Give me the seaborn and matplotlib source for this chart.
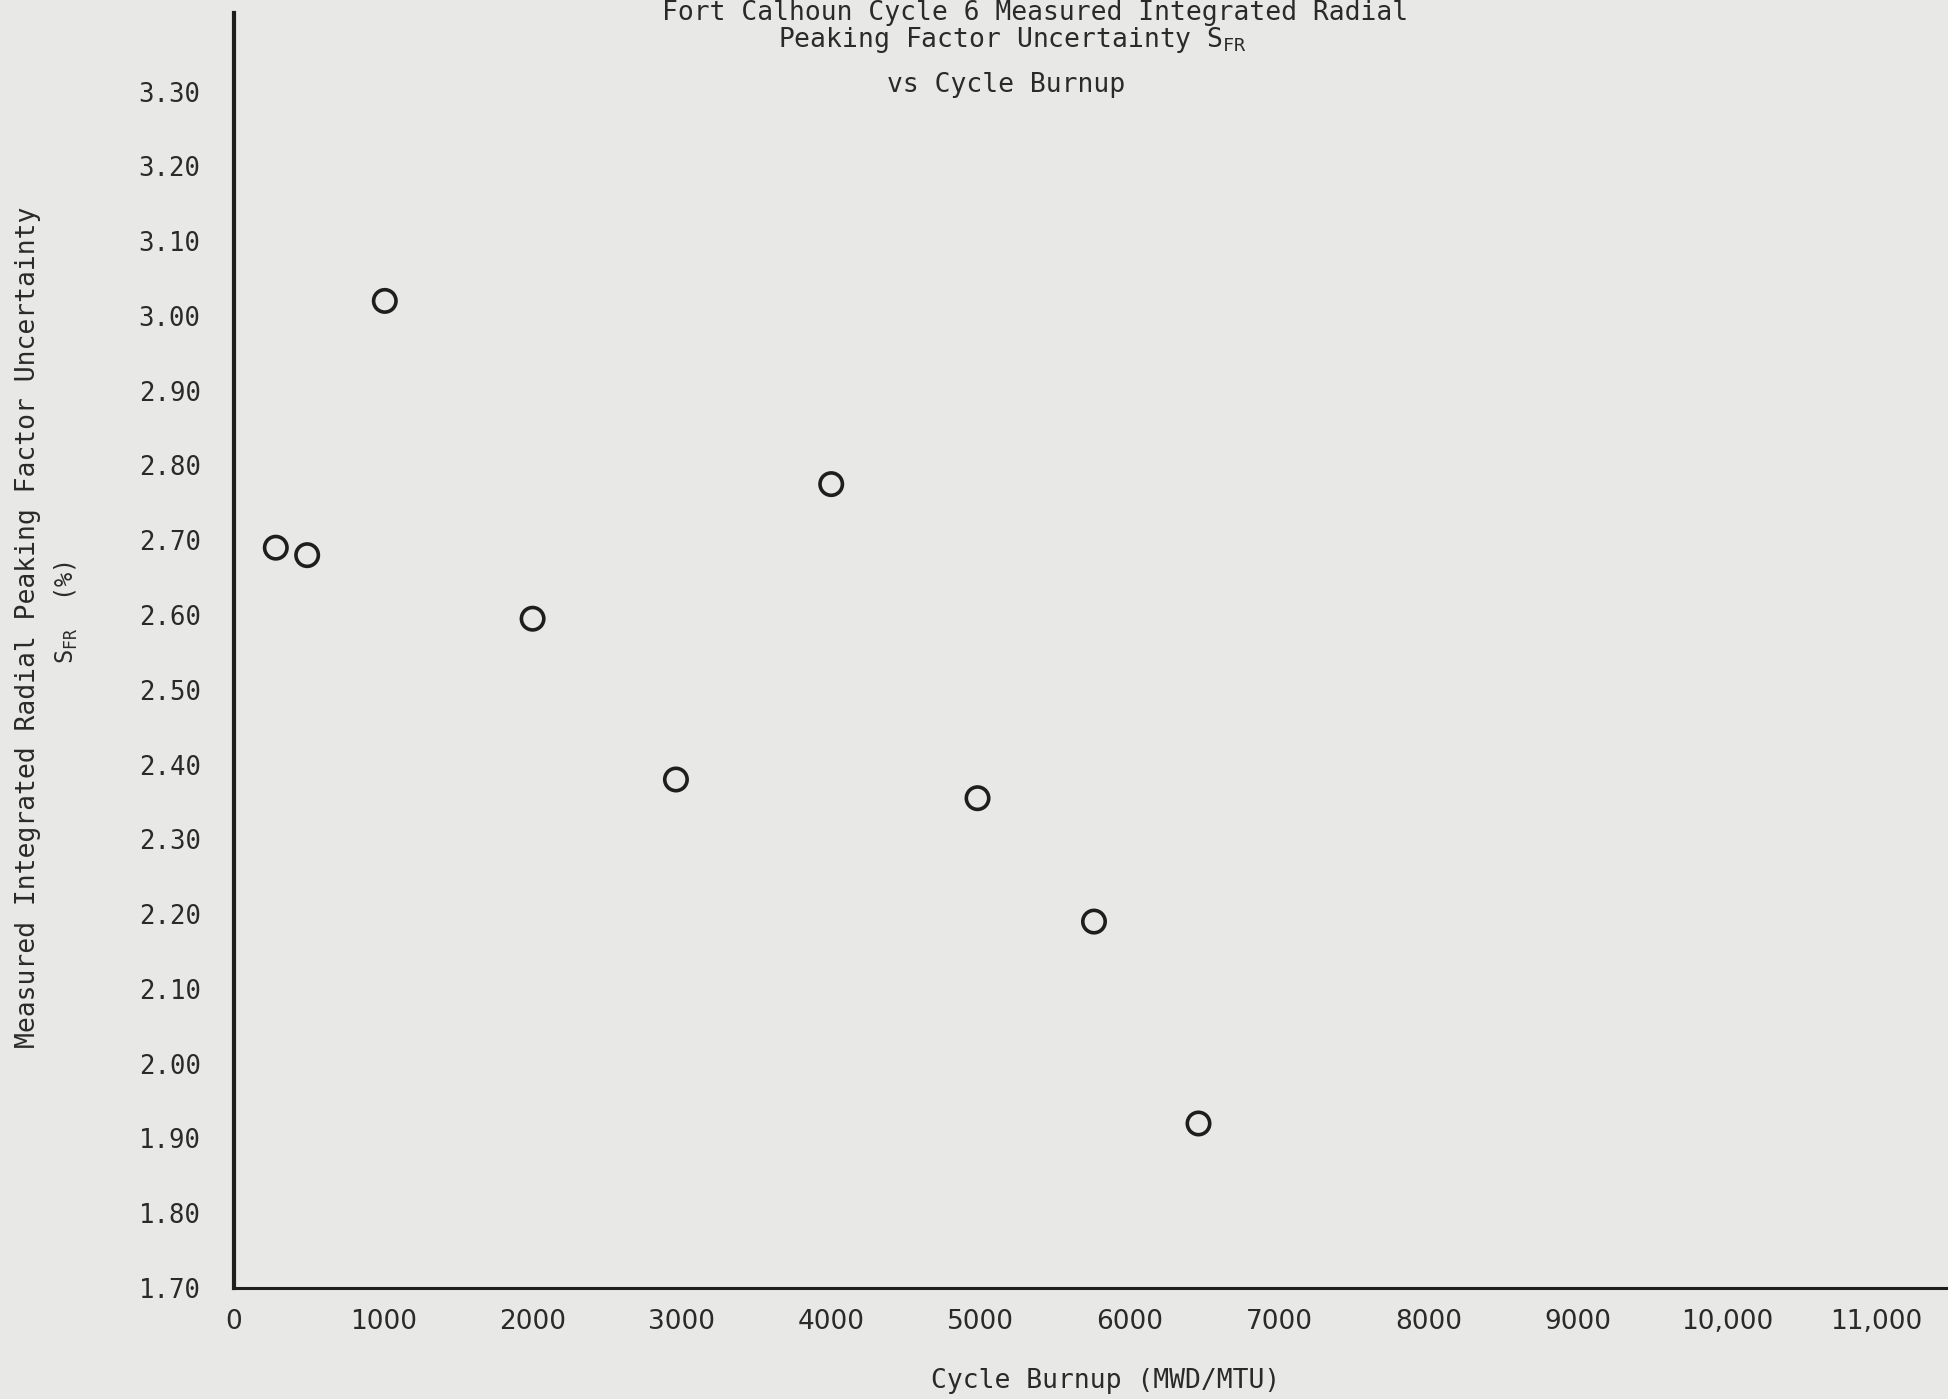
import matplotlib
matplotlib.use("Agg")
import matplotlib.pyplot as plt
import seaborn as sns
import pandas as pd

# Data
burnup = [280, 490, 1010, 2000, 2960, 4000, 4980, 5760, 6460]
sfr = [2.69, 2.68, 3.02, 2.595, 2.38, 2.775, 2.355, 2.19, 1.92]

x_ticks = [0, 1000, 2000, 3000, 4000, 5000, 6000, 7000, 8000, 9000, 10000, 11000]
x_tick_labels = ["0", "1000", "2000", "3000", "4000", "5000", "6000", "7000",
                 "8000", "9000", "10,000", "11,000"]
y_ticks = [1.70, 1.80, 1.90, 2.00, 2.10, 2.20, 2.30, 2.40, 2.50, 2.60, 2.70,
           2.80, 2.90, 3.00, 3.10, 3.20, 3.30]
y_tick_labels = ["%.2f" % v for v in y_ticks]

title_lines = ["Fort Calhoun Cycle 6 Measured Integrated Radial",
               r"Peaking Factor Uncertainty S$_{\mathrm{FR}}$",
               "vs Cycle Burnup"]
ylabel_line1 = "Measured Integrated Radial Peaking Factor Uncertainty"
ylabel_line2 = r"S$_{\mathrm{FR}}$  (%)"
xlabel = "Cycle Burnup (MWD/MTU)"

df = pd.DataFrame({"burnup": burnup, "sfr": sfr})

sns.set_style("white")
plt.rcParams["font.family"] = ["DejaVu Sans Mono", "DejaVu Sans"]
plt.rcParams["mathtext.fontset"] = "custom"
plt.rcParams["mathtext.rm"] = "DejaVu Sans Mono"
plt.rcParams["mathtext.it"] = "DejaVu Sans Mono"

BG = "#e8e8e6"
INK = "#1e1e1e"
TXT = "#2a2a2a"

fig = plt.figure(figsize=(19.48, 13.99), dpi=100, facecolor=BG)
ax = fig.add_axes([234 / 1948, (1399 - 1288) / 1399, 1 - 234 / 1948, (1288 - 13) / 1399])
ax.set_facecolor(BG)

sns.scatterplot(data=df, x="burnup", y="sfr", ax=ax, marker="o", s=260,
                facecolor="none", edgecolor=INK, linewidth=2.6, legend=False)

ax.set_xlim(0, 11480)
ax.set_ylim(1.70, 3.405)

ax.set_xticks(x_ticks)
ax.set_xticklabels(x_tick_labels, family=["DejaVu Sans"],
                   fontsize=19, color=TXT)
ax.set_yticks(y_ticks)
ax.set_yticklabels(y_tick_labels, family=["DejaVu Sans Mono"], fontsize=18.5, color=TXT)

ax.tick_params(axis="x", direction="in", length=11, width=1.6, color=INK, pad=15)
ax.tick_params(axis="y", direction="in", length=7, width=1.4, color=INK, pad=24)

for s in ["top", "right"]:
    ax.spines[s].set_visible(False)
ax.spines["left"].set_linewidth(3.0)
ax.spines["left"].set_color(INK)
ax.spines["bottom"].set_linewidth(2.2)
ax.spines["bottom"].set_color(INK)

ax.set_xlabel("")
ax.set_ylabel("")

# Title lines
fig.text(1035 / 1948, 1 - 13 / 1399, title_lines[0], ha="center", va="center",
         fontsize=19, color=TXT)
fig.text(1013 / 1948, 1 - 40 / 1399, title_lines[1], ha="center", va="center",
         fontsize=19, color=TXT)
fig.text(1006 / 1948, 1 - 85 / 1399, title_lines[2], ha="center", va="center",
         fontsize=19, color=TXT)

# Axis labels
fig.text(28 / 1948, 1 - 627 / 1399, ylabel_line1, rotation=90, ha="center",
         va="center", fontsize=19, color=TXT)
fig.text(66 / 1948, 1 - 612 / 1399, ylabel_line2, rotation=90, ha="center",
         va="center", fontsize=17, color=TXT)
fig.text(1106 / 1948, 1 - 1381 / 1399, xlabel, ha="center", va="center",
         fontsize=19, color=TXT)

fig.savefig("out.png", dpi=100, facecolor=BG)
